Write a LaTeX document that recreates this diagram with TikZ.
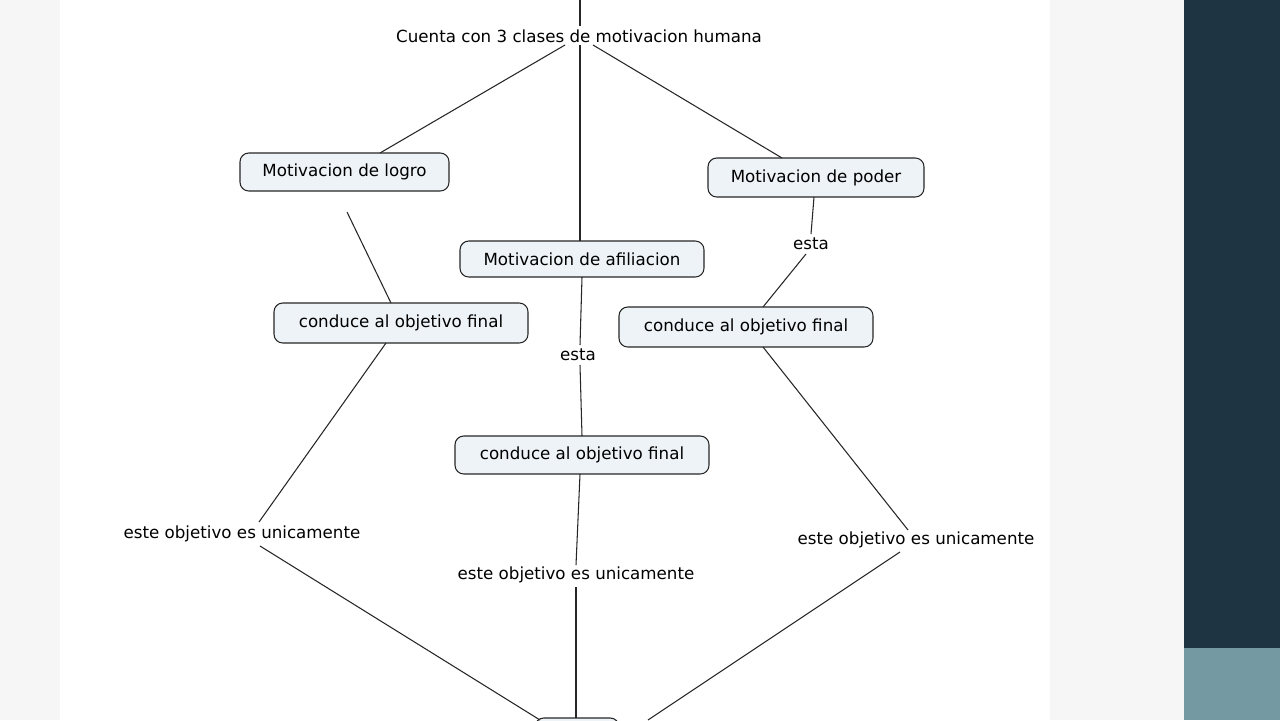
\documentclass[tikz,border=0pt]{standalone}
\usepackage{fontspec}
\setmainfont{DejaVu Sans}
\definecolor{boxfill}{HTML}{EEF3F7}
\definecolor{panel}{HTML}{1E3442}
\definecolor{panelb}{HTML}{7599A3}
\definecolor{bg}{HTML}{F6F6F6}
\begin{document}
\begin{tikzpicture}[x=0.02cm,y=-0.02cm,
  cbox/.style={draw=black!85,line width=0.6pt,rounded corners=5pt,fill=boxfill,font=\fontsize{9.5}{11}\selectfont,inner sep=0pt},
  lbl/.style={font=\fontsize{9.5}{11}\selectfont,inner sep=1pt},
  conn/.style={draw=black!85,line width=0.6pt}]
\useasboundingbox (0,0) rectangle (1280,720);
\clip (0,0) rectangle (1280,720);
\fill[bg] (0,0) rectangle (1184,720);
\fill[white] (60,0) rectangle (1050,720);
\fill[panel] (1184,0) rectangle (1280,648);
\fill[panelb] (1184,648) rectangle (1280,720);
% nodes
\node[lbl] (top) at (579,36) {Cuenta con 3 clases de motivacion humana};
\node[cbox,minimum width=209*0.02cm,minimum height=38*0.02cm] (logro) at (344.5,172) {Motivacion de logro};
\node[cbox,minimum width=216*0.02cm,minimum height=39*0.02cm] (poder) at (816,177.5) {Motivacion de poder};
\node[cbox,minimum width=244*0.02cm,minimum height=36*0.02cm] (afil) at (582,259) {Motivacion de afiliacion};
\node[cbox,minimum width=254*0.02cm,minimum height=40*0.02cm] (cL) at (401,323) {conduce al objetivo final};
\node[cbox,minimum width=254*0.02cm,minimum height=40*0.02cm] (cR) at (746,327) {conduce al objetivo final};
\node[cbox,minimum width=254*0.02cm,minimum height=38*0.02cm] (cC) at (582,455) {conduce al objetivo final};
\node[lbl] (eR) at (811,244) {esta};
\node[lbl] (eC) at (578,355) {esta};
\node[lbl] (oL) at (242,534) {este objetivo es unicamente};
\node[lbl] (oC) at (576,575) {este objetivo es unicamente};
\node[lbl] (oR) at (916,540) {este objetivo es unicamente};
\node[cbox,minimum width=84*0.02cm,minimum height=40*0.02cm] (bot) at (577,738) {};
% coordinates
\coordinate (t0) at (580,0);
\coordinate (gap) at (347,212);
% connectors
\draw[conn] (t0) -- (580,26);
\draw[conn] (565,45) -- (380,153);
\draw[conn] (580,45) -- (580,241);
\draw[conn] (593,45) -- (782,158);
\draw[conn] (gap) -- (391,303);
\draw[conn] (814,197) -- (811,234);
\draw[conn] (806,254) -- (763,307);
\draw[conn] (582,277) -- (580,345);
\draw[conn] (580,365) -- (582,436);
\draw[conn] (386,343) -- (259,522);
\draw[conn] (580,474) -- (576,565);
\draw[conn] (763,347) -- (908,530);
\draw[conn] (260,546) -- (540,720);
\draw[conn] (576,587) -- (576,718);
\draw[conn] (900,552) -- (648,720);
\end{tikzpicture}
\end{document}
